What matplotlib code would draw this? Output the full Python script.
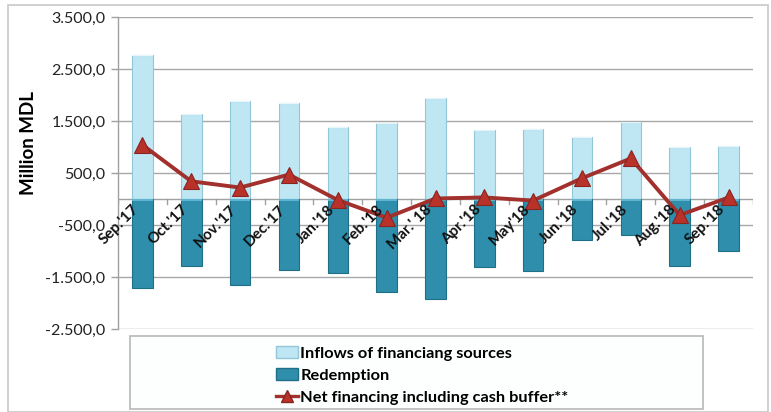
import matplotlib
matplotlib.use("Agg")
import matplotlib.pyplot as plt
from matplotlib.patches import Rectangle
from matplotlib.lines import Line2D
from matplotlib.ticker import FuncFormatter
import numpy as np

plt.rcParams['font.family'] = ['Lato', 'DejaVu Sans']

months = ["Sep.'17", "Oct.'17", "Nov.'17", "Dec.'17", "Jan.'18", "Feb.'18",
          "Mar.' 18", "Apr.'18", "May'18", "Jun.'18", "Jul.'18", "Aug.'18", "Sep.'18"]
inflows = [2770, 1635, 1885, 1850, 1385, 1460, 1940, 1325, 1350, 1195, 1480, 1000, 1020]
redemption = [-1712, -1290, -1655, -1365, -1420, -1790, -1920, -1310, -1385, -790, -690, -1290, -1000]
net_financing = [1040, 340, 220, 470, -20, -360, 10, 30, -30, 400, 780, -310, 30]
y_ticks = [-2500, -1500, -500, 500, 1500, 2500, 3500]

fig = plt.figure(figsize=(7.71, 4.12), dpi=100)
ax = fig.add_axes([118/771, 1 - 329/412, (753 - 118)/771, (329 - 17)/412])

x = np.arange(len(months))
w = 0.42

ax.bar(x, inflows, width=w, color='#bfe7f3', edgecolor='#93c6d6', linewidth=0.8, zorder=2)
ax.bar(x, redemption, width=w, color='#2f8eab', edgecolor='#1f6f88', linewidth=0.8, zorder=2)
# light cap on top of each inflow bar and a lighter band at the top of each redemption bar
ax.bar(x, [25] * len(x), bottom=[v - 25 for v in inflows], width=w,
       color='#e6f6fb', linewidth=0, zorder=3)
ax.bar(x, [-40] * len(x), width=w, color='#5fb5cf', linewidth=0, zorder=3)

ax.plot(x, net_financing, color='#a2302c', linewidth=2.8, marker='^', markersize=11,
        markerfacecolor='#b8322a', markeredgecolor='#8a2420', markeredgewidth=0.8, zorder=4)

ax.set_xlim(-0.5, len(months) - 0.5)
ax.set_ylim(-2500, 3500)
ax.set_yticks(y_ticks)
ax.yaxis.set_major_formatter(FuncFormatter(
    lambda v, p: f"{v:,.1f}".replace(",", " ").replace(".", ",").replace(" ", ".")))
ax.tick_params(axis='y', labelsize=11.5, length=5, color='#a0a0a0', width=1, pad=4,
               labelcolor='#222222')
ax.grid(axis='y', color='#a8a8a8', linewidth=1, zorder=0)
ax.set_axisbelow(True)

for s in ['top', 'right', 'bottom']:
    ax.spines[s].set_visible(False)
ax.spines['left'].set_color('#a0a0a0')
ax.spines['left'].set_linewidth(1)

# zero axis with category boundary ticks
ax.axhline(0, color='#a0a0a0', linewidth=1, zorder=1)
for b in np.arange(-0.5, len(months), 1.0):
    ax.plot([b, b], [0, -90], color='#a0a0a0', linewidth=1, zorder=1)

ax.set_xticks([])
for i, lab in enumerate(months):
    ax.annotate(lab, xy=(i, 0), xytext=(-4, -6), textcoords='offset points',
                rotation=45, rotation_mode='anchor', ha='right', va='center',
                fontsize=11, fontweight='bold', color='#111111', zorder=5)

fig.text(28/771, 1 - 143/412, 'Million MDL', rotation=90, fontsize=13.5, fontweight='bold',
         ha='center', va='center')

# outer frame and legend box
fig.patches.append(Rectangle((8/771, 0.0), 760/771, 1 - 5/412, transform=fig.transFigure,
                             fill=False, edgecolor='#c8c8c8', linewidth=1.2))
fig.patches.append(Rectangle((130/771, 1 - 409/412), 573/771, 73/412, transform=fig.transFigure,
                             facecolor='#fdfefe', edgecolor='#b8b8b8', linewidth=1.2))

handles = [
    Rectangle((0, 0), 1, 1, facecolor='#bfe7f3', edgecolor='#93c6d6'),
    Rectangle((0, 0), 1, 1, facecolor='#2f8eab', edgecolor='#1f6f88'),
    Line2D([], [], color='#a2302c', linewidth=2.4, marker='^', markersize=8,
           markerfacecolor='#b8322a', markeredgecolor='#8a2420'),
]
labels = ['Inflows of financiang sources', 'Redemption', 'Net financing including cash buffer**']
fig.legend(handles, labels, loc='upper left', bbox_to_anchor=(265/771, 1 - 335/412),
           frameon=False, prop={'size': 11.8, 'weight': 'bold'}, handlelength=1.3,
           handletextpad=0.15, labelspacing=0.45, borderpad=0.2)

fig.savefig('out.png', dpi=100)
